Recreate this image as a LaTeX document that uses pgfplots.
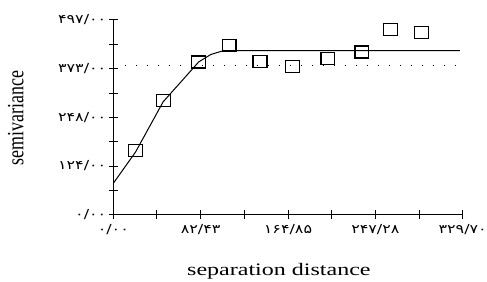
\documentclass[border=0pt]{standalone}
\usepackage{graphicx}
\usepackage{pgfplots}
\pgfplotsset{compat=1.18}
\usepackage{fontspec}
\setmainfont{Liberation Serif}
\newfontfamily\pfont{DejaVu Sans}
\newcommand{\pl}[1]{{\pfont\fontsize{12.5}{14}\selectfont\scalebox{1.28}[1]{#1}}}
\begin{document}
\begin{tikzpicture}
\begin{axis}[
  at={(0,0)}, anchor=south west,
  scale only axis, width=349.4bp, height=194.7bp,
  xmin=0, xmax=329.7, ymin=0, ymax=497,
  axis lines*=left,
  axis line style={line width=1.4bp},
  tick align=center, major tick length=9bp,
  tick style={black, line width=1bp},
  xtick={0,41.2125,82.425,123.6375,164.85,206.0625,247.275,288.4875,329.7},
  xticklabels={\pl{۰/۰۰},,\pl{۸۲/۴۳},,\pl{۱۶۴/۸۵},,\pl{۲۴۷/۲۸},,\pl{۳۲۹/۷۰}},
  ytick={0,62.125,124.25,186.375,248.5,310.625,372.75,434.875,497},
  yticklabels={\pl{۰/۰۰},,\pl{۱۲۴/۰۰},,\pl{۲۴۸/۰۰},,\pl{۳۷۳/۰۰},,\pl{۴۹۷/۰۰}},
  xticklabel style={yshift=-2bp},
  yticklabel style={xshift=1bp},
  xlabel={\scalebox{1.37}[1]{\fontsize{17.6}{20}\selectfont separation distance}},
  xlabel style={at={(axis description cs:0.474,-0.31)}, anchor=base},
  ylabel={\scalebox{1}[1.3]{\fontsize{18}{20}\selectfont semivariance}},
  ylabel style={at={(axis description cs:-0.2576,0.4967)}, anchor=base},
  clip=false,
]
\addplot[black, line width=1.3bp, dash pattern=on 1.3bp off 9.7bp] coordinates {(11,380) (329,380)};
\addplot[black, line width=1bp, mark=none] coordinates {
  (0,80) (21,160) (47,288) (80.6,390) (92,409) (104,418.7) (327,418.7)};
\addplot[only marks, mark=square, mark size=6bp,
  mark options={black, line width=1.3bp, xscale=1.15}] coordinates {
  (21.1,163.4) (47.2,291) (80.6,389.8) (109.4,432.5) (138.4,390.6)
  (169.2,377.8) (202.5,399) (234.6,415.4) (261.7,473.3) (290.9,465.7)};
\end{axis}
\pgfresetboundingbox
\path[use as bounding box] (-113.3bp,-67.3bp) rectangle (373.7bp,214.7bp);
\end{tikzpicture}
\end{document}
